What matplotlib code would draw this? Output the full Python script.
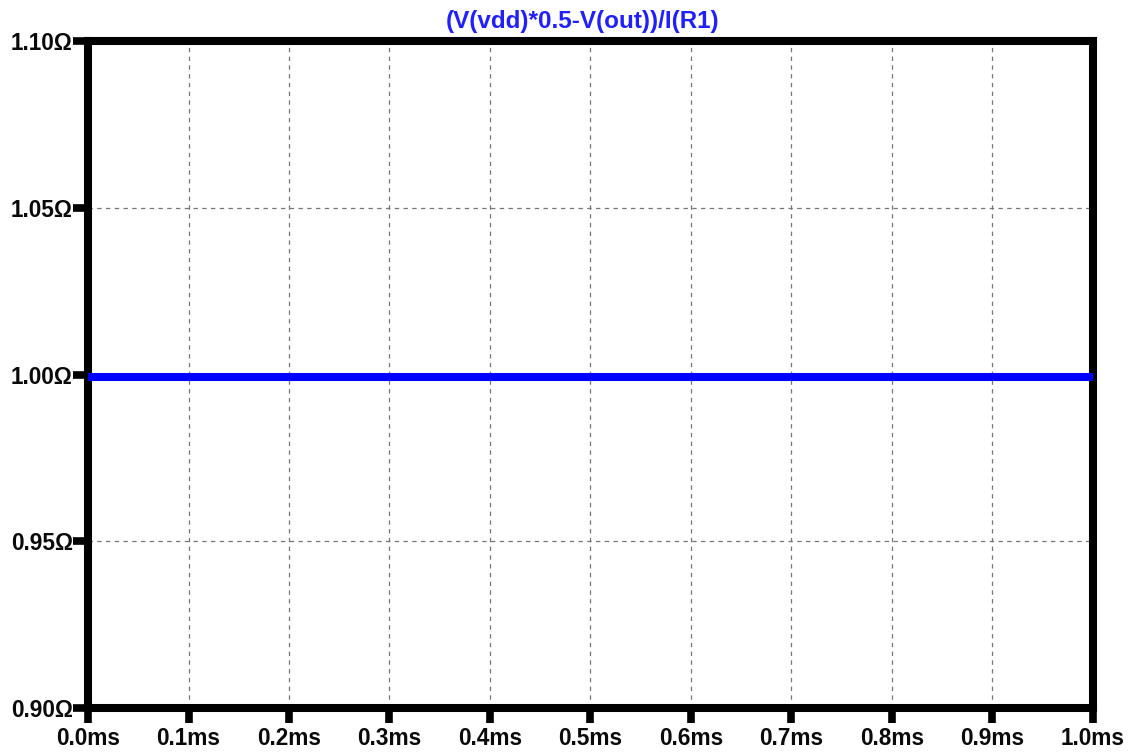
import matplotlib.pyplot as plt
import numpy as np

# transient sweep, time in ms and effective resistance in ohms
time_ms = [0.0, 0.1, 0.2, 0.3, 0.4, 0.5, 0.6, 0.7, 0.8, 0.9, 1.0]
resistance = [0.9993, 0.9993, 0.9993, 0.9993, 0.9993, 0.9993, 0.9993, 0.9993, 0.9993, 0.9993, 0.9993]

x_ticks = [0.0, 0.1, 0.2, 0.3, 0.4, 0.5, 0.6, 0.7, 0.8, 0.9, 1.0]
y_ticks = [0.90, 0.95, 1.00, 1.05, 1.10]
trace_name = '(V(vdd)*0.5-V(out))/I(R1)'

plt.rcParams['font.family'] = ['Liberation Sans', 'DejaVu Sans']

fig = plt.figure(figsize=(11.36, 7.54), dpi=100)
ax = fig.add_axes([0.0775, 0.061, 0.8845, 0.8846])

ax.plot(time_ms, resistance, color='#0000ff', linewidth=5.8, solid_capstyle='butt', zorder=3)

ax.set_xlim(0.0, 1.0)
ax.set_ylim(0.90, 1.10)
ax.set_xticks(x_ticks)
ax.set_yticks(y_ticks)
ax.set_xticklabels([f'{t:.1f}ms' for t in x_ticks])
ax.set_yticklabels([f'{v:.2f}\u03a9' for v in y_ticks])

ax.grid(True, color='#777777', linestyle=(0, (3.5, 3.5)), linewidth=0.9)
ax.set_axisbelow(True)

for side in ax.spines.values():
    side.set_linewidth(5.8)
    side.set_color('black')

ax.tick_params(axis='both', direction='out', length=11, width=5.5, color='black',
               labelsize=16.3, pad=0)
ax.tick_params(axis='x', pad=3)
for lbl in ax.get_xticklabels() + ax.get_yticklabels():
    lbl.set_fontweight('bold')
    lbl.set_color('#0a0a0a')

# trace name sits a little left of the plot centre
ax.text(0.4925, 1.019, trace_name, transform=ax.transAxes, ha='center', va='baseline',
        color='#2020ff', fontsize=17.5, fontweight='bold')

fig.savefig('out.png', dpi=100, facecolor='white')
